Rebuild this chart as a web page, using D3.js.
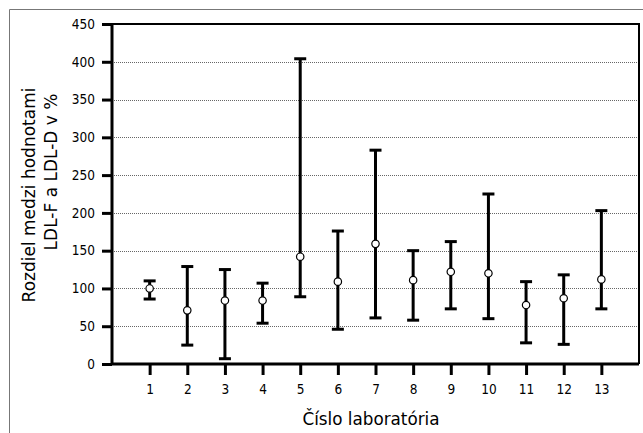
<!DOCTYPE html>
<html>
<head>
<meta charset="utf-8">
<script src="https://cdn.jsdelivr.net/npm/d3@7"></script>
<style>
  body { margin: 0; background: #fff; }
  text { font-family: "DejaVu Sans", sans-serif; fill: #000; }
</style>
</head>
<body>
<div class="canvas"></div>
<script>
// lab numbers and values
const labs  = [1, 2, 3, 4, 5, 6, 7, 8, 9, 10, 11, 12, 13];
const means = [100, 71, 84, 84, 142, 109, 159, 111, 122, 120, 78, 87, 112];
const highs = [110, 129, 125, 107, 404, 176, 283, 150, 162, 225, 109, 118, 203];
const lows  = [86, 25, 7, 54, 89, 46, 61, 58, 73, 60, 28, 26, 73];
const yTicks = [0, 50, 100, 150, 200, 250, 300, 350, 400, 450];

const dims = { width: 643, height: 433 };
const plot = { left: 112, top: 24, right: 639, bottom: 364 };

const svg = d3.select('.canvas')
    .append('svg')
    .attr('width', dims.width)
    .attr('height', dims.height);

// outer frame (cropped on the right and bottom)
svg.append('path')
    .attr('d', `M9.5,${dims.height + 2} V9.5 H${dims.width + 2}`)
    .attr('fill', 'none')
    .attr('stroke', '#777')
    .attr('stroke-width', 1);

const x = d3.scaleLinear().domain([0, 14]).range([plot.left, plot.right]);
const y = d3.scaleLinear().domain([0, 450]).range([plot.bottom, plot.top]);

// dotted grid
svg.append('g')
    .selectAll('line')
    .data(yTicks.filter(d => d > 0 && d < 450))
    .enter().append('line')
    .attr('x1', plot.left).attr('x2', plot.right)
    .attr('y1', d => Math.round(y(d)) + 0.5).attr('y2', d => Math.round(y(d)) + 0.5)
    .attr('stroke', '#666')
    .attr('stroke-width', 1)
    .attr('stroke-dasharray', '1,1');

// top and right border
svg.append('path')
    .attr('d', `M${plot.left},${plot.top} H${plot.right} V${plot.bottom}`)
    .attr('fill', 'none')
    .attr('stroke', '#000')
    .attr('stroke-width', 2);

// y axis
const yAxis = svg.append('g')
    .attr('transform', `translate(${plot.left}, 0)`)
    .call(d3.axisLeft(y).tickValues(yTicks).tickSize(10).tickPadding(7));

// x axis
const xAxis = svg.append('g')
    .attr('transform', `translate(0, ${plot.bottom})`)
    .call(d3.axisBottom(x).tickValues(labs).tickSize(11).tickPadding(9).tickFormat(d3.format('d')));

[yAxis, xAxis].forEach(ax => {
    ax.select('.domain').attr('stroke', '#000').attr('stroke-width', 3);
    ax.selectAll('.tick line').attr('stroke', '#000').attr('stroke-width', 3);
    ax.selectAll('.tick text')
        .attr('font-family', '"DejaVu Sans Condensed", "DejaVu Sans", sans-serif')
        .attr('font-stretch', 'condensed')
        .attr('font-size', 13.5)
        .attr('fill', '#000');
});
yAxis.select('.domain').attr('d', `M0,${plot.bottom}V${plot.top}`);
xAxis.select('.domain').attr('d', `M${plot.left},0H${plot.right}`);

// error bars
const bars = svg.append('g')
    .selectAll('g')
    .data(labs.map((lab, i) => ({ lab, mean: means[i], hi: highs[i], lo: lows[i] })))
    .enter().append('g');

bars.append('line')
    .attr('x1', d => x(d.lab)).attr('x2', d => x(d.lab))
    .attr('y1', d => y(d.hi)).attr('y2', d => y(d.lo))
    .attr('stroke', '#000').attr('stroke-width', 3);

['hi', 'lo'].forEach(k => {
    bars.append('line')
        .attr('x1', d => x(d.lab) - 6).attr('x2', d => x(d.lab) + 6)
        .attr('y1', d => y(d[k])).attr('y2', d => y(d[k]))
        .attr('stroke', '#000').attr('stroke-width', 3);
});

bars.append('circle')
    .attr('cx', d => x(d.lab))
    .attr('cy', d => y(d.mean))
    .attr('r', 3.7)
    .attr('fill', '#fff')
    .attr('stroke', '#000')
    .attr('stroke-width', 1.2);

// axis titles
svg.append('text')
    .attr('x', 371).attr('y', 425)
    .attr('text-anchor', 'middle')
    .attr('font-family', '"Open Sans", sans-serif')
    .attr('font-size', 16.8)
    .text('Číslo laboratória');

svg.append('text')
    .attr('transform', 'translate(35, 195) rotate(-90)')
    .attr('text-anchor', 'middle')
    .attr('font-family', '"Open Sans", sans-serif')
    .attr('font-size', 17)
    .text('Rozdiel medzi hodnotami');

svg.append('text')
    .attr('transform', 'translate(57, 172) rotate(-90)')
    .attr('text-anchor', 'middle')
    .attr('font-family', '"Open Sans", sans-serif')
    .attr('font-size', 17)
    .text('LDL-F a LDL-D v %');
</script>
</body>
</html>
